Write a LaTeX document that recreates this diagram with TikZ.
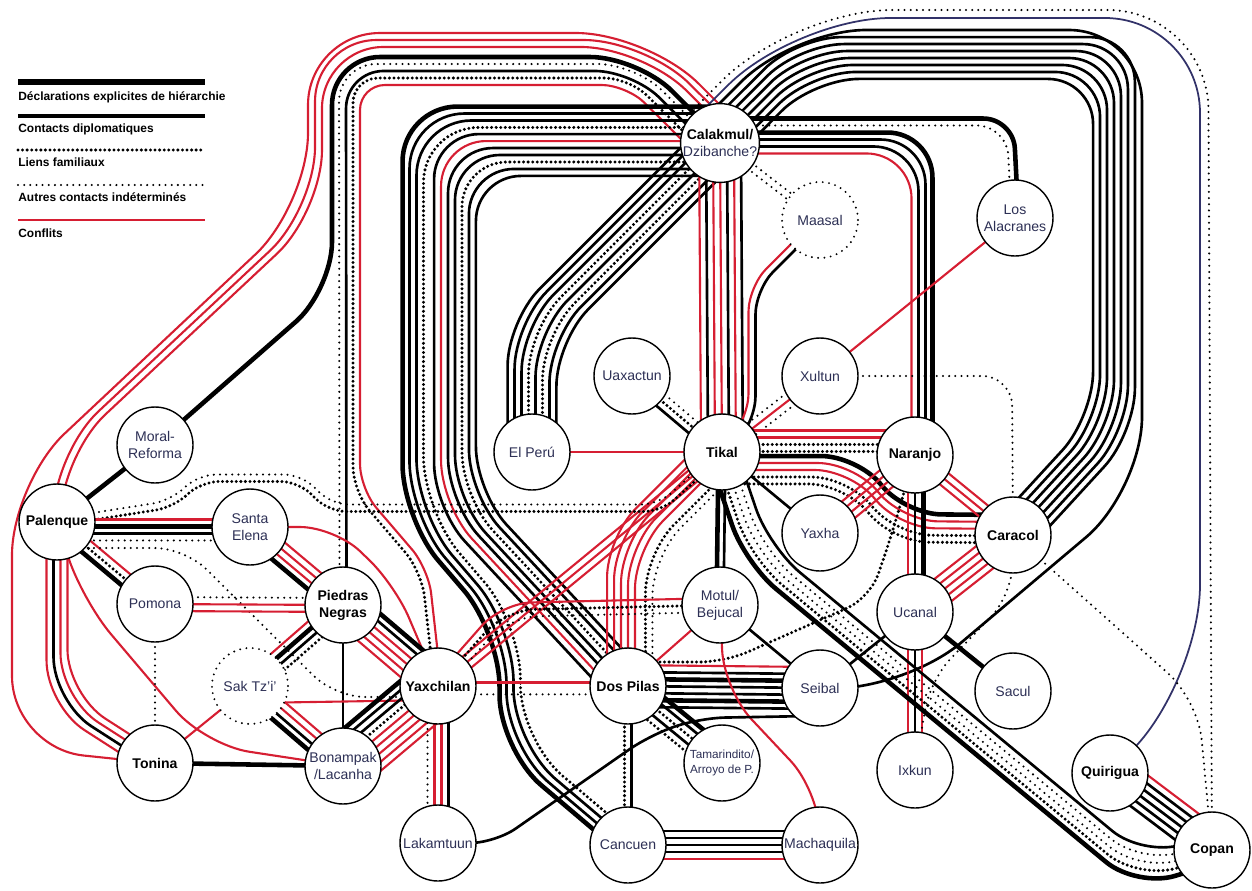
\documentclass[tikz,border=0pt]{standalone}
\usepackage{fontspec}
\setsansfont{Liberation Sans}
\usetikzlibrary{calc,backgrounds}

\definecolor{conflictred}{RGB}{214,30,50}
\definecolor{sitetext}{RGB}{45,48,85}
\definecolor{navyline}{RGB}{50,50,105}

\tikzset{
  hier/.style={line width=2.6pt},
  dipl/.style={line width=1.5pt},
  fam/.style={line width=1.9pt, line cap=round, dash pattern=on 0pt off 2.6pt},
  oth/.style={line width=1.3pt, line cap=round, dash pattern=on 0pt off 3.5pt},
  conf/.style={line width=1.2pt, color=conflictred},
  navy/.style={line width=1pt, color=navyline},
  site/.style={circle, draw, fill=white, line width=0.8pt, minimum size=1.52cm, inner sep=0pt,
    align=center, text=sitetext, font=\sffamily\fontsize{8}{9.6}\selectfont},
  capital/.style={site, text=black, font=\sffamily\bfseries\fontsize{8}{9.6}\selectfont},
  unsure/.style={site, line width=1.2pt, line cap=round, dash pattern=on 0pt off 3.6pt},
  legendtext/.style={anchor=north west, inner sep=0pt, font=\sffamily\bfseries\fontsize{6.8}{8}\selectfont},
}

% unit normal of the route leg #1 -> #2
\newcommand{\segnormal}[2]{%
  \pgfmathsetmacro\lpdx{(\csname lpx#2\endcsname)-(\csname lpx#1\endcsname)}%
  \pgfmathsetmacro\lpdy{(\csname lpy#2\endcsname)-(\csname lpy#1\endcsname)}%
  \pgfmathsetmacro\lpdl{veclen(\lpdx,\lpdy)}%
  \pgfmathsetmacro\lpnx{-1*(\lpdy)/\lpdl}%
  \pgfmathsetmacro\lpny{(\lpdx)/\lpdl}}

% one lane: radius, style, offset (pt), list of route points
\newcommand{\lanepath}[4]{%
  \gdef\lpn{0}%
  \foreach \pt in {#4}{%
    \path \pt; \pgfgetlastxy{\lpa}{\lpb}%
    \pgfmathtruncatemacro\lpm{\lpn+1}\xdef\lpn{\lpm}%
    \pgfmathsetmacro\lpa{\lpa}\pgfmathsetmacro\lpb{\lpb}%
    \expandafter\xdef\csname lpx\lpm\endcsname{\lpa}%
    \expandafter\xdef\csname lpy\lpm\endcsname{\lpb}}%
  \pgfmathsetmacro\lpd{#3}\xdef\lpd{\lpd}%
  \gdef\lppath{}%
  \foreach \i in {1,...,\lpn}{%
    \pgfmathtruncatemacro\ip{\i-1}\pgfmathtruncatemacro\iq{\i+1}%
    \ifnum\i=1 \segnormal{1}{2}\let\lpmx\lpnx\let\lpmy\lpny
    \else\ifnum\i=\lpn\relax \segnormal{\ip}{\i}\let\lpmx\lpnx\let\lpmy\lpny
    \else
      \segnormal{\ip}{\i}\let\lpax\lpnx\let\lpay\lpny
      \segnormal{\i}{\iq}%
      \pgfmathsetmacro\lpden{1+(\lpax)*(\lpnx)+(\lpay)*(\lpny)}%
      \pgfmathsetmacro\lpmx{((\lpax)+(\lpnx))/\lpden}%
      \pgfmathsetmacro\lpmy{((\lpay)+(\lpny))/\lpden}%
    \fi\fi
    \pgfmathsetmacro\lpqx{(\csname lpx\i\endcsname)+(\lpd)*(\lpmx)}%
    \pgfmathsetmacro\lpqy{(\csname lpy\i\endcsname)+(\lpd)*(\lpmy)}%
    \ifnum\i=1 \xdef\lppath{(\lpqx pt,\lpqy pt)}\else\xdef\lppath{\lppath -- (\lpqx pt,\lpqy pt)}\fi}%
  \edef\lpcmd{\noexpand\draw[#2, rounded corners=#1] \lppath;}\lpcmd}

% a bundle of parallel lanes along one route: style/lane
\newcommand{\bundle}[3][0.9cm]{%
  \foreach \kind/\lane in {#2}{\lanepath{#1}{\kind}{\lane*3.97}{#3}}}

\begin{document}
\begin{tikzpicture}[x=0.02cm, y=-0.02cm]
\useasboundingbox (0,0) rectangle (1252,890);

% legend
\draw[line width=3pt] (18,82) -- (205,82);
\node[legendtext] (lhier) at (18,91) {Déclarations explicites de hiérarchie};
\draw[line width=2pt] (18,116) -- (205,116);
\node[legendtext] (ldipl) at (18,123) {Contacts diplomatiques};
\draw[fam] (18,150) -- (205,150);
\node[legendtext] (lfam) at (18,157) {Liens familiaux};
\draw[oth] (18,185) -- (205,185);
\node[legendtext] (loth) at (18,192) {Autres contacts indéterminés};
\draw[conf, line width=1.6pt] (18,220) -- (205,220);
\node[legendtext] (lconf) at (18,228) {Conflits};

% sites
\node[site] (calakmul) at (720,143) {\textcolor{black}{\bfseries Calakmul/}\\Dzibanche?};
\node[unsure] (maasal) at (820,220) {Maasal};
\node[site] (alacranes) at (1015,218) {Los\\Alacranes};
\node[site] (uaxactun) at (632,376) {Uaxactun};
\node[site] (xultun) at (820,376) {Xultun};
\node[site] (elperu) at (532,452) {El Perú};
\node[capital] (tikal) at (722,452) {Tikal};
\node[capital] (naranjo) at (915,455) {Naranjo};
\node[site] (yaxha) at (820,533) {Yaxha};
\node[capital] (caracol) at (1013,535) {Caracol};
\node[site] (moral) at (155,445) {Moral-\\Reforma};
\node[capital] (palenque) at (57,522) {Palenque};
\node[site] (stelena) at (250,527) {Santa\\Elena};
\node[site] (pomona) at (155,604) {Pomona};
\node[capital] (piedras) at (343,605) {Piedras\\Negras};
\node[unsure] (saktzi) at (250,686) {Sak Tz'i'};
\node[capital] (yaxchilan) at (438,686) {Yaxchilan};
\node[capital] (dospilas) at (628,686) {Dos Pilas};
\node[site] (motul) at (720,605) {Motul/\\Bejucal};
\node[site] (seibal) at (820,688) {Seibal};
\node[site] (ucanal) at (915,612) {Ucanal};
\node[site] (sacul) at (1013,691) {Sacul};
\node[capital] (tonina) at (155,763) {Tonina};
\node[site] (bonampak) at (343,766) {Bonampak\\/Lacanha};
\node[site, font=\sffamily\fontsize{6.7}{8.4}\selectfont] (tamarindito) at (722,763) {Tamarindito/\\Arroyo de P.};
\node[site] (ixkun) at (915,770) {Ixkun};
\node[capital] (quirigua) at (1110,773) {Quirigua};
\node[capital] (copan) at (1212,850) {Copan};
\node[site] (lakamtuun) at (438,843) {Lakamtuun};
\node[site] (cancuen) at (628,845) {Cancuen};
\node[site] (machaquila) at (820,845) {Machaquila};

% route ends set off from the site centres
\coordinate (lA1) at ($(calakmul.center)+(19,-19)$);
\coordinate (lA23) at ($(calakmul.center)+(12,-12)$);
\coordinate (lHM) at ($(calakmul.center)+(2,-2)$);
\coordinate (lOD) at ($(calakmul.center)+(-5,5)$);
\coordinate (lFC) at ($(calakmul.center)+(-15,15)$);
\coordinate (lDP) at ($(calakmul.center)+(0,12)$);
\coordinate (lCC) at ($(calakmul.center)+(0,-26)$);
\coordinate (lAL) at ($(calakmul.center)+(0,-21)$);
\coordinate (lSE) at ($(calakmul.center)+(-20,-20)$);
\coordinate (lQU) at ($(calakmul.center)+(-25,-25)$);
\coordinate (lCO) at ($(calakmul.center)+(-30,-30)$);
\coordinate (nC) at ($(naranjo.center)+(7,0)$);
\coordinate (tN) at ($(tikal.center)+(0,-11)$);
\coordinate (nT) at ($(naranjo.center)+(0,-14)$);
\coordinate (tC) at ($(tikal.center)+(0,18)$);
\coordinate (cT) at ($(caracol.center)+(0,-6)$);
\coordinate (pS) at ($(palenque.center)+(0,8)$);
\coordinate (sP) at ($(stelena.center)+(0,3)$);
\coordinate (pY) at ($(palenque.center)+(0,26)$);
\coordinate (yP) at ($(yaxchilan.center)+(0,11)$);
\coordinate (sY) at ($(saktzi.center)+(0,17)$);
\coordinate (yS) at ($(yaxchilan.center)+(0,14)$);
\coordinate (dN) at ($(dospilas.center)+(0,-24)$);
\coordinate (sL) at ($(seibal.center)+(-10,28)$);

\begin{scope}[on background layer]
% Calakmul, western loop
\bundle[1.44cm]{conf/0}{(lA1),(648,33),(308,33),(308,205),(12,483),(12,748),(tonina.center)}
\bundle[1.23cm]{conf/-0.5,conf/0.5}{(lA23),(644,43.5),(318.5,43.5),(318.5,210),(57,455),(palenque.center)}
\bundle[0.96cm]{hier/0}{(lHM),(638,57),(332,57),(332,290),(moral.center)}
\bundle[0.75cm]{oth/-0.5,dipl/0.5}{(lOD),(634,67.5),(342.5,67.5),(piedras.center)}
\bundle[0.5cm]{fam/-0.5,conf/0.5}{(lFC),(628,81.5),(356.5,81.5),(356.5,490),(425,570),(yaxchilan.center)}
% Calakmul, inner loop to Dos Pilas and Cancuen
\bundle{dipl/-3,conf/-2,dipl/-1,dipl/0,fam/1,dipl/2,dipl/3}{(lDP),(455,155),(455,500),(dospilas.center)}
\bundle[1.1cm]{hier/-1.5,dipl/-0.5,dipl/0.5,fam/1.5}{(lCC),(413,117),(413,515),(510,628),(510,745),(cancuen.center)}
\bundle{dipl/-3.5,dipl/-2.5,dipl/-1.5,fam/-0.5,dipl/0.5,fam/1.5,dipl/2.5,dipl/3.5}{(calakmul.center),(532,331),(elperu.center)}
\bundle{conf/-3,dipl/-2,conf/-1,conf/0,dipl/1,conf/2,dipl/3}{(calakmul.center),(tikal.center)}
% Calakmul, eastern loops
\bundle{conf/-1.5,dipl/-0.5,dipl/0.5,hier/1.5}{(calakmul.center),(922,143),(nC)}
\bundle[0.6cm]{oth/-0.5,hier/0.5}{(lAL),(1010,122),(alacranes.center)}
\bundle{dipl/-3,dipl/-2,dipl/-1,dipl/0,dipl/1,dipl/2,dipl/3}{(calakmul.center),(805,58),(1114,58),(1114,425),(caracol.center)}
\bundle[1.46cm]{dipl/0}{(lSE),(793,30),(1142,30),(1142,490),(905,690),(seibal.center)}
\bundle[1.9cm]{navy/0}{(lQU),(795.5,18),(1200,18),(1200,680),(quirigua.center)}
\bundle[2cm]{oth/0}{(lCO),(792,10),(1208,10),(copan.center)}
\bundle{oth/-0.5,oth/0.5}{(calakmul.center),(maasal.center)}
\bundle[0.5cm]{conf/-0.5,dipl/0.5}{(maasal.center),(752,288),(752,420),(tikal.center)}
% Peten core
\bundle{dipl/-1,fam/0,oth/1}{(uaxactun.center),(tikal.center)}
\bundle{conf/0}{(elperu.center),(tikal.center)}
\bundle{oth/-1,conf/0,oth/1}{(xultun.center),(tikal.center)}
\bundle{conf/0}{(alacranes.center),(xultun.center)}
\bundle[0.6cm]{oth/0}{(xultun.center),(1012,376),(caracol.center)}
\bundle{conf/1.5,conf/0.5,fam/-0.5,fam/-1.5}{(tN),(nT)}
\bundle[0.7cm]{hier/2,conf/1,conf/0,fam/-1,fam/-2}{(tC),(850,470),(900,528),(cT)}
\bundle{conf/-1,conf/0,conf/1}{(naranjo.center),(caracol.center)}
\bundle{conf/-1.5,conf/-0.5,conf/0.5,conf/1.5}{(naranjo.center),(yaxha.center)}
\bundle{dipl/0}{(tikal.center),(yaxha.center)}
\bundle{conf/-1,dipl/0,hier/1.2}{(naranjo.center),(ucanal.center)}
\bundle{conf/-2,conf/-1,conf/0,conf/1,conf/2}{(caracol.center),(ucanal.center)}
\bundle{hier/0}{(ucanal.center),(sacul.center)}
\bundle{conf/-1,dipl/0,conf/1}{(ucanal.center),(ixkun.center)}
\bundle{dipl/0}{(ucanal.center),(seibal.center)}
\bundle[0.6cm]{oth/0}{(caracol.center),(1012,595),(930,680),(ixkun.center)}
\bundle[0.8cm]{oth/0}{(caracol.center),(1198,700),(copan.center)}
\bundle[0.8cm]{hier/-2,fam/-1,oth/0,oth/1,dipl/2}{(tikal.center),(757,555),(1140,872),(copan.center)}
\bundle{conf/3,dipl/2,dipl/1,dipl/0,dipl/-1,dipl/-2}{(quirigua.center),(copan.center)}
\bundle{hier/-0.5,dipl/0.5}{(tikal.center),(motul.center)}
\bundle[0.8cm]{conf/-3,conf/-2,conf/-1,conf/0,conf/1,fam/2.5,oth/3.5}{(tikal.center),(628,546),(dospilas.center)}
\bundle{conf/-1,conf/0,conf/1}{(tikal.center),(yaxchilan.center)}
% Usumacinta
\bundle[0.35cm]{oth/0.5,fam/-0.5}{(palenque.center),(172,504),(200,478),(300,478),(330,508),(660,508),(tikal.center)}
\bundle{conf/1.5,hier/0.5,dipl/-0.5,oth/-1.5}{(pS),(sP)}
\bundle{hier/-1,fam/0,conf/1}{(palenque.center),(pomona.center)}
\bundle[0.6cm]{oth/0}{(pY),(185,548),(335,697),(yP)}
\bundle{conf/-1.5,dipl/-0.5,conf/0.5,conf/1.5}{(palenque.center),(57,700),(tonina.center)}
\bundle{conf/0}{(palenque.center),(82,600),(205,745),(bonampak.center)}
\bundle{hier/0}{(moral.center),(palenque.center)}
\bundle{hier/-1.5,conf/-0.5,conf/0.5,conf/1.5}{(stelena.center),(piedras.center)}
\bundle[0.7cm]{conf/0}{(stelena.center),(335,527),(395,585),(yaxchilan.center)}
\bundle{oth/1,conf/0,conf/-1}{(pomona.center),(piedras.center)}
\bundle{oth/0}{(pomona.center),(tonina.center)}
\bundle{hier/2.5,dipl/1.5,conf/0.5,conf/-0.5,conf/-1.5,conf/-2.5}{(piedras.center),(yaxchilan.center)}
\bundle{conf/-1.5,hier/-0.5,dipl/0.5,fam/1.5}{(piedras.center),(saktzi.center)}
\bundle{dipl/0}{(piedras.center),(bonampak.center)}
\bundle{hier/-1.5,dipl/-0.5,conf/0.5,conf/1.5}{(saktzi.center),(bonampak.center)}
\bundle{conf/0}{(sY),(yS)}
\bundle{conf/0}{(saktzi.center),(tonina.center)}
\bundle{hier/0}{(tonina.center),(bonampak.center)}
\bundle{hier/4,dipl/3,dipl/2,fam/1,conf/0,conf/-1,conf/-2,conf/-3,conf/-4}{(bonampak.center),(yaxchilan.center)}
\bundle{oth/-1.5,conf/-0.5,conf/0.5,dipl/1.5}{(yaxchilan.center),(lakamtuun.center)}
\bundle{conf/0.5,oth/-1.2}{(yaxchilan.center),(dospilas.center)}
\bundle[0.6cm]{conf/1,fam/0,oth/-1}{(yaxchilan.center),(505,610),(motul.center)}
% Pasion
\bundle{conf/3,dipl/2,hier/1,dipl/0,dipl/-1,hier/-2,dipl/-3}{(dospilas.center),(seibal.center)}
\bundle[0.5cm]{fam/0}{(dN),(725,662),(870,598),(890,540),(naranjo.center)}
\bundle{conf/0}{(dospilas.center),(motul.center)}
\bundle[0.8cm]{conf/0}{(motul.center),(724,690),(818,790),(machaquila.center)}
\bundle{dipl/0}{(motul.center),(seibal.center)}
\bundle{hier/2,dipl/1,fam/0,dipl/-1,fam/-2}{(dospilas.center),(tamarindito.center)}
\bundle{fam/-0.5,dipl/0.5}{(dospilas.center),(cancuen.center)}
\bundle[0.5cm]{dipl/0}{(lakamtuun.center),(495,843),(650,735),(700,718),(sL)}
\bundle{dipl/2,dipl/1,dipl/0,dipl/-1,conf/-2}{(cancuen.center),(machaquila.center)}
\end{scope}
\end{tikzpicture}
\end{document}
